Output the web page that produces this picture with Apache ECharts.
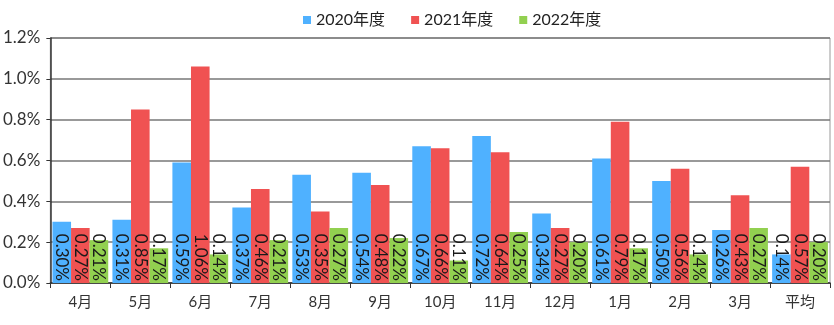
<!DOCTYPE html>
<html><head><meta charset="utf-8">
<script src="https://cdn.jsdelivr.net/npm/echarts@6/dist/echarts.min.js"></script>
<style>html,body{margin:0;padding:0;background:#fff}#c{width:834px;height:325px}</style>
</head><body><div id="c"></div>
<script>
const categories = ['4月','5月','6月','7月','8月','9月','10月','11月','12月','1月','2月','3月','平均'];
const seriesNames = ['2020年度','2021年度','2022年度'];
const v2020 = [0.30,0.31,0.59,0.37,0.53,0.54,0.67,0.72,0.34,0.61,0.50,0.26,0.14];
const v2021 = [0.27,0.85,1.06,0.46,0.35,0.48,0.66,0.64,0.27,0.79,0.56,0.43,0.57];
const v2022 = [0.21,0.17,0.14,0.21,0.27,0.22,0.11,0.25,0.20,0.17,0.14,0.27,0.20];
const colors = ['#4FB1FF','#F05252','#92D050'];
const FONT = 'Lato, "Noto Sans CJK JP", sans-serif';
const chart = echarts.init(document.getElementById('c'), null, {renderer:'canvas'});
const mk = (name, data, i) => ({
  name, type:'bar', data,
  barGap:'0%', barCategoryGap:'7%',
  itemStyle:{color:colors[i]},
  label:{show:true, position:'insideBottom', distance:2, rotate:-90, align:'right', verticalAlign:'middle',
    formatter:p=>p.value.toFixed(2)+'%', color:'#1a1a1a', fontSize:17, fontFamily:FONT}
});
chart.setOption({
  animation:false,
  color:colors,
  legend:{top:7, left:298, itemWidth:8, itemHeight:8, itemGap:26, icon:'rect',
    textStyle:{fontSize:16, color:'#222', fontFamily:FONT}, data:seriesNames},
  grid:{left:50, right:4, top:38, bottom:42, show:true, borderColor:'#999', borderWidth:1},
  xAxis:{type:'category', data:categories,
    axisLine:{lineStyle:{color:'#333', width:1.5}},
    axisTick:{show:true, length:5, lineStyle:{color:'#333'}},
    axisLabel:{color:'#333', fontSize:15, margin:12, fontFamily:FONT}},
  yAxis:{type:'value', min:0, max:1.2, interval:0.2,
    axisLine:{show:true, lineStyle:{color:'#333', width:1.5}},
    axisTick:{show:true, length:4, lineStyle:{color:'#333'}},
    splitLine:{lineStyle:{color:'#777', width:1.5}},
    axisLabel:{color:'#333', fontSize:17, margin:10, fontFamily:FONT, formatter:v=>v.toFixed(1)+'%'}},
  series:[mk(seriesNames[0],v2020,0), mk(seriesNames[1],v2021,1), mk(seriesNames[2],v2022,2)]
});
</script></body></html>
